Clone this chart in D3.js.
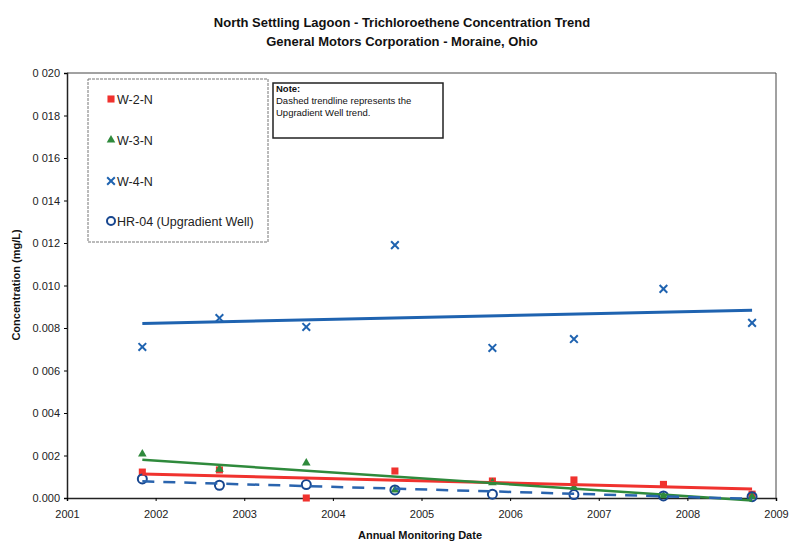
<!DOCTYPE html>
<html><head><meta charset="utf-8">
<script src="https://cdn.jsdelivr.net/npm/d3@7"></script>
<style>body{margin:0;background:#fff}svg{display:block;font-family:"Liberation Sans",Arial,sans-serif}</style>
</head><body><svg id="c" width="790" height="546"></svg>
<script>
const dates = [2001.85, 2002.72, 2003.70, 2004.70, 2005.80, 2006.72, 2007.73, 2008.73];
const w2n = [0.00122, 0.00132, 0.0000, 0.00127, 0.00080, 0.00085, 0.00064, 0.00018];
const w3n = [0.00207, 0.00135, 0.00165, 0.00038, 0.00072, 0.00050, 0.00010, 0.00006];
const w4n = [0.00711, 0.00847, 0.00805, 0.01190, 0.00706, 0.00748, 0.00984, 0.00824];
const hr04 = [0.00090, 0.00060, 0.00063, 0.00038, 0.00018, 0.00016, 0.00010, 0.00006];
const yTicks = [0, 0.002, 0.004, 0.006, 0.008, 0.010, 0.012, 0.014, 0.016, 0.018, 0.020];
const yTickLabels = ["0.000","0 002","0 004","0 006","0.008","0.010","0 012","0 014","0 016","0 018","0 020"];
const xTicks = [2001, 2002, 2003, 2004, 2005, 2006, 2007, 2008, 2009];
const seriesNames = ["W-2-N", "W-3-N", "W-4-N", "HR-04 (Upgradient Well)"];

const svg = d3.select("#c");
const L = 67, R = 776, T = 73, B = 498;
const x = d3.scaleLinear().domain([2001, 2009]).range([L, R]);
const y = d3.scaleLinear().domain([0, 0.020]).range([B, T]);

// titles
svg.append("text").attr("x", 402).attr("y", 27).attr("text-anchor", "middle")
  .attr("font-size", 13).attr("font-weight", "bold").attr("fill", "#111")
  .text("North Settling Lagoon - Trichloroethene Concentration Trend");
svg.append("text").attr("x", 402).attr("y", 46).attr("text-anchor", "middle")
  .attr("font-size", 13).attr("font-weight", "bold").attr("fill", "#111")
  .text("General Motors Corporation - Moraine, Ohio");

// plot frame (top/right)
svg.append("path").attr("d", `M${L},${T}H${R}V${B}`).attr("fill", "none").attr("stroke", "#444").attr("stroke-width", 1);

// axes
const yAxis = d3.axisLeft(y).tickValues(yTicks).tickSize(3).tickFormat((d, i) => yTickLabels[i]);
const gy = svg.append("g").attr("transform", `translate(${L},0)`).call(yAxis);
gy.select(".domain").attr("stroke", "#222").attr("stroke-width", 1.5);
gy.selectAll("text").attr("font-size", 11).attr("fill", "#222").attr("font-family", "Liberation Sans, Arial, sans-serif").attr("dx", -1);
const xAxis = d3.axisBottom(x).tickValues(xTicks).tickSize(3).tickFormat(d3.format("d"));
const gx = svg.append("g").attr("transform", `translate(0,${B})`).call(xAxis);
gx.select(".domain").attr("stroke", "#222").attr("stroke-width", 1.5);
gx.selectAll("text").attr("font-size", 11).attr("fill", "#222").attr("font-family", "Liberation Sans, Arial, sans-serif").attr("dy", "1.3em");

svg.append("text").attr("x", 420).attr("y", 539).attr("text-anchor", "middle")
  .attr("font-size", 11).attr("font-weight", "bold").attr("fill", "#111").text("Annual Monitoring Date");
svg.append("text").attr("transform", "translate(20,285) rotate(-90)").attr("text-anchor", "middle")
  .attr("font-size", 11).attr("font-weight", "bold").attr("fill", "#111").text("Concentration (mg/L)");

// regression trendlines
function fit(vals) {
  const mx = d3.mean(dates), my = d3.mean(vals);
  let sxy = 0, sxx = 0;
  dates.forEach((d, i) => { sxy += (d - mx) * (vals[i] - my); sxx += (d - mx) * (d - mx); });
  const m = sxy / sxx, b = my - m * mx;
  const x0 = dates[0], x1 = dates[dates.length - 1];
  return [[x0, m * x0 + b], [x1, m * x1 + b]];
}
const line = d3.line().x(d => x(d[0])).y(d => y(d[1]));
const colors = { red: "#f0322e", green: "#2f8a3c", blue: "#1f63b0", dash: "#2a64ae", circle: "#17468f" };

// markers
const sq = d3.symbol().type(d3.symbolSquare).size(50);
const tri = d3.symbol().type(d3.symbolTriangle).size(32);
const cross = d3.symbol().type(d3.symbolX).size(40);

svg.append("g").selectAll("path").data(w2n).join("path")
  .attr("d", sq).attr("transform", (d, i) => `translate(${x(dates[i])},${y(d)})`).attr("fill", colors.red);
svg.append("g").selectAll("path").data(w3n).join("path")
  .attr("d", tri).attr("transform", (d, i) => `translate(${x(dates[i])},${y(d)})`).attr("fill", colors.green);
svg.append("g").selectAll("path").data(w4n).join("path")
  .attr("d", cross).attr("transform", (d, i) => `translate(${x(dates[i])},${y(d)})`)
  .attr("stroke", colors.blue).attr("stroke-width", 2).attr("fill", "none");
svg.append("g").selectAll("circle").data(hr04).join("circle")
  .attr("cx", (d, i) => x(dates[i])).attr("cy", d => y(d)).attr("r", 4.5)
  .attr("fill", "none").attr("stroke", colors.circle).attr("stroke-width", 2);

// trendlines over markers
svg.append("path").attr("d", line(fit(w4n))).attr("stroke", colors.blue).attr("stroke-width", 3).attr("fill", "none");
svg.append("path").attr("d", line(fit(w2n))).attr("stroke", colors.red).attr("stroke-width", 3).attr("fill", "none");
svg.append("path").attr("d", line(fit(w3n))).attr("stroke", colors.green).attr("stroke-width", 2.5).attr("fill", "none");
svg.append("path").attr("d", line(fit(hr04))).attr("stroke", colors.dash).attr("stroke-width", 2.5)
  .attr("stroke-dasharray", "12,9").attr("fill", "none");

// legend
const lg = svg.append("g");
lg.append("rect").attr("x", 88).attr("y", 79).attr("width", 180).attr("height", 163)
  .attr("fill", "#fff").attr("stroke", "#777").attr("stroke-width", 1).attr("stroke-dasharray", "3,1");
const ly = [99, 140, 181, 221];
const legendMarks = [
  g => g.append("path").attr("d", sq).attr("fill", colors.red),
  g => g.append("path").attr("d", tri).attr("fill", colors.green),
  g => g.append("path").attr("d", cross).attr("stroke", colors.blue).attr("stroke-width", 2).attr("fill", "none"),
  g => g.append("circle").attr("r", 4).attr("fill", "none").attr("stroke", colors.circle).attr("stroke-width", 2)
];
seriesNames.forEach((n, i) => {
  const g = lg.append("g").attr("transform", `translate(111,${ly[i]})`);
  legendMarks[i](g);
  lg.append("text").attr("x", 117).attr("y", ly[i] + 4.5).attr("font-size", 12.5).attr("fill", "#222").text(n);
});

// note box
const nb = svg.append("g");
nb.append("rect").attr("x", 273).attr("y", 83).attr("width", 170).attr("height", 55)
  .attr("fill", "#fff").attr("stroke", "#222").attr("stroke-width", 1.5);
nb.append("text").attr("x", 276).attr("y", 92).attr("font-size", 9.5).attr("font-weight", "bold").attr("fill", "#111").text("Note:");
nb.append("text").attr("x", 276).attr("y", 104).attr("font-size", 9.5).attr("fill", "#111").text("Dashed trendline represents the");
nb.append("text").attr("x", 276).attr("y", 116).attr("font-size", 9.5).attr("fill", "#111").text("Upgradient Well trend.");
</script></body></html>
